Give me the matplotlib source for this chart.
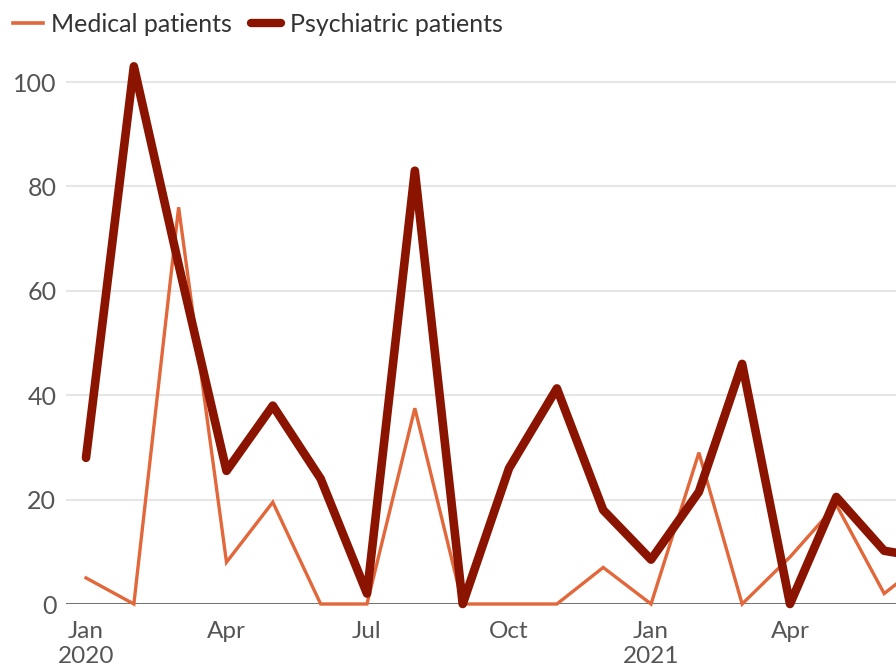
import matplotlib
matplotlib.use("Agg")
import matplotlib.pyplot as plt
import matplotlib.dates as mdates
import pandas as pd
from matplotlib.lines import Line2D

months = pd.date_range("2020-01-01", "2021-07-01", freq="MS")
medical = [5, 0, 76, 8, 19.5, 0, 0, 37.5, 0, 0, 0, 7, 0, 29, 0, 9, 19, 2, 9]
psychiatric = [28, 103, 65, 25.5, 38, 24, 2, 83, 0, 26, 41.3, 18, 8.5, 21.5, 46, 0, 20.5, 10.2, 8.7]

tick_dates = pd.to_datetime(["2020-01-01", "2020-04-01", "2020-07-01", "2020-10-01", "2021-01-01", "2021-04-01"])
tick_labels = ["Jan\n2020", "Apr", "Jul", "Oct", "Jan\n2021", "Apr"]
yticks = [0, 20, 40, 60, 80, 100]

plt.rcParams["font.family"] = ["Lato", "DejaVu Sans"]

W, H = 896, 671
fig = plt.figure(figsize=(W / 100, H / 100), dpi=100)
ax_left, ax_right = 66, 896
y0, y100 = 604, 82
ppu = (y0 - y100) / 100.0
ymax = 106
ax_top = y0 - ymax * ppu
ax = fig.add_axes([ax_left / W, 1 - y0 / H, (ax_right - ax_left) / W, (y0 - ax_top) / H])

med_c = "#e2673a"
psy_c = "#8a1400"

ax.plot(months, medical, color=med_c, lw=2.4, solid_joinstyle="miter", zorder=3, clip_on=False)
ax.plot(months, psychiatric, color=psy_c, lw=6.2, solid_joinstyle="round", solid_capstyle="round", zorder=4, clip_on=False)

# x limits: Jan 1 2020 at px 86, Apr 1 2021 at px 790
d0 = mdates.date2num(pd.Timestamp("2020-01-01"))
d1 = mdates.date2num(pd.Timestamp("2021-04-01"))
ppd = (790 - 86) / (d1 - d0)
ax.set_xlim(d0 - (86 - ax_left) / ppd, d0 + (ax_right - 86) / ppd)
ax.set_ylim(0, ymax)

ax.set_yticks(yticks)
ax.set_yticklabels([str(v) for v in yticks])
ax.set_xticks(tick_dates)
ax.set_xticklabels(tick_labels)

for s in ax.spines.values():
    s.set_visible(False)
ax.grid(axis="y", color="#e6e6e6", lw=1.5, zorder=0)
ax.grid(axis="x", visible=False)
ax.axhline(0, color="#4d4d4d", lw=1.8, zorder=2)
ax.tick_params(axis="y", length=0, pad=7, labelsize=18, labelcolor="#555555")
ax.tick_params(axis="x", length=0, pad=12.5, labelsize=17.5, labelcolor="#555555")
for t in ax.get_xticklabels():
    t.set_linespacing(1.22)

handles = [Line2D([], [], color=med_c, lw=2.6),
           Line2D([], [], color=psy_c, lw=6, solid_capstyle="round")]
fig.legend(handles, ["Medical patients", "Psychiatric patients"],
           loc="upper left", bbox_to_anchor=(0.0, 1.0), ncol=2, frameon=False,
           fontsize=18, labelcolor="#333333", handlelength=1.2, handletextpad=0.35,
           columnspacing=0.75, borderaxespad=0.2, borderpad=0.3)

fig.savefig("out.png", dpi=100)
